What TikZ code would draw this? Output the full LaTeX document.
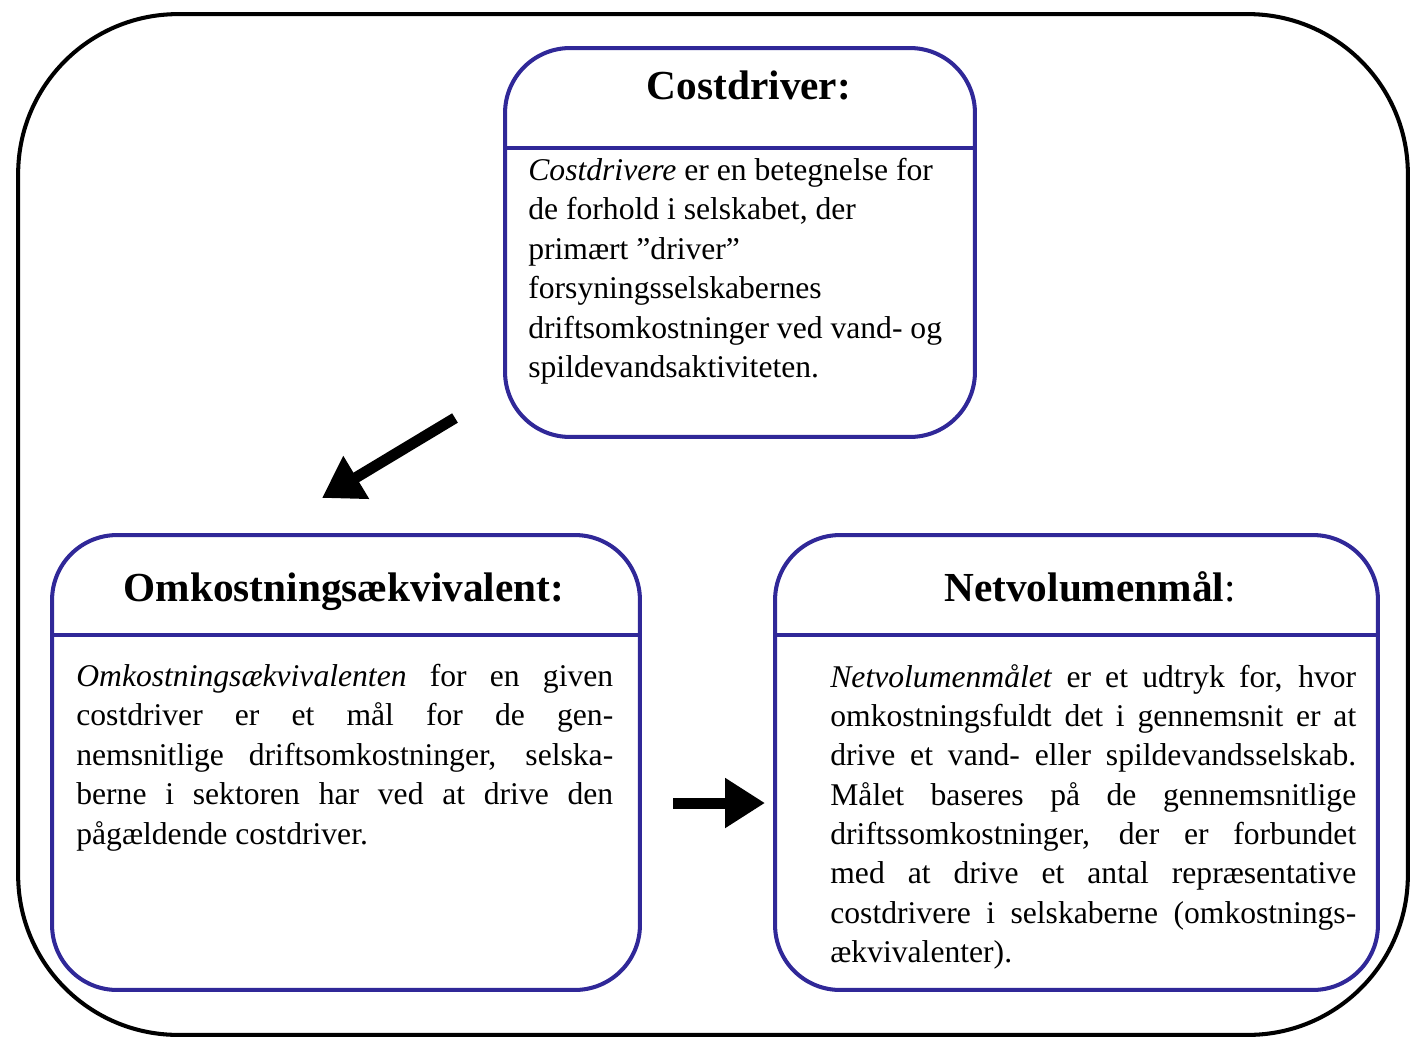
\documentclass[tikz,border=0pt]{standalone}
\usepackage{fontspec}
\setmainfont{Liberation Serif}
\usetikzlibrary{arrows.meta}
\definecolor{boxblue}{RGB}{48,40,152}
\begin{document}
\begin{tikzpicture}[x=0.02cm,y=-0.02cm,
		box/.style={draw=boxblue,line width=2.3pt,rounded corners=1.3cm},
		split/.style={draw=boxblue,line width=2.3pt},
		title/.style={anchor=base,font=\fontsize{23.5}{28}\selectfont\bfseries},
		body/.style={anchor=north west,inner sep=0pt,font=\fontsize{18}{22.4}\selectfont},
		bigarrow/.style={line width=0.22cm,-{Triangle[length=0.8cm,width=0.95cm]}}]
	\useasboundingbox (0,0) rectangle (1412,1045);
	\node [draw,line width=2.3pt,rounded corners=3.2cm,minimum width=27.8cm,minimum height=20.42cm] (frame) at (713,524.5) {};
	% Costdriver
	\node [box,minimum width=9.4cm,minimum height=7.78cm] (cd) at (740,242.5) {};
	\coordinate (cdsplit) at (740,148);
	\draw [split] (cd.west |- cdsplit) -- (cd.east |- cdsplit);
	\node [title] (cdtitle) at (749,99) {Costdriver:};
	\node [body,align=left] (cdtext) at (528,158) {\textit{Costdrivere} er en betegnelse for\\de forhold i selskabet, der\\primært "driver"\\forsyningsselskabernes\\driftsomkostninger ved vand- og\\spildevandsaktiviteten.};
	% Omkostningsaekvivalent
	\node [box,minimum width=11.76cm,minimum height=9.1cm] (oe) at (346,762.5) {};
	\coordinate (oesplit) at (346,635);
	\draw [split] (oe.west |- oesplit) -- (oe.east |- oesplit);
	\node [title] (oetitle) at (344,601) {Omkostningsækvivalent:};
	\node [body,text width=10.74cm,align=justify] (oetext) at (76,664) {\textit{Omkostningsækvivalenten} for en given\linebreak costdriver er et mål for de gen-\linebreak nemsnitlige driftsomkostninger, selska-\linebreak berne i sektoren har ved at drive den\linebreak pågældende costdriver.};
	% Netvolumenmaal
	\node [box,minimum width=12.06cm,minimum height=9.1cm] (nv) at (1076.5,762.5) {};
	\coordinate (nvsplit) at (1076.5,635);
	\draw [split] (nv.west |- nvsplit) -- (nv.east |- nvsplit);
	\node [title] (nvtitle) at (1090,601) {Netvolumenmål\textmd{:}};
	\node [body,text width=10.52cm,align=justify] (nvtext) at (830,664) {\textit{Netvolumenmålet} er et udtryk for, hvor\linebreak omkostningsfuldt det i gennemsnit er at\linebreak drive et vand- eller spildevandsselskab.\linebreak Målet baseres på de gennemsnitlige\linebreak driftssomkostninger, der er forbundet\linebreak med at drive et antal repræsentative\linebreak costdrivere i selskaberne (omkostnings-\linebreak ækvivalenter).};
	% arrows
	\coordinate (cdout) at (455,418);
	\coordinate (oein) at (322,498);
	\draw [bigarrow] (cdout) -- (oein);
	\coordinate (oeout) at (673,803);
	\coordinate (nvin) at (765,803);
	\draw [bigarrow] (oeout) -- (nvin);
\end{tikzpicture}
\end{document}
